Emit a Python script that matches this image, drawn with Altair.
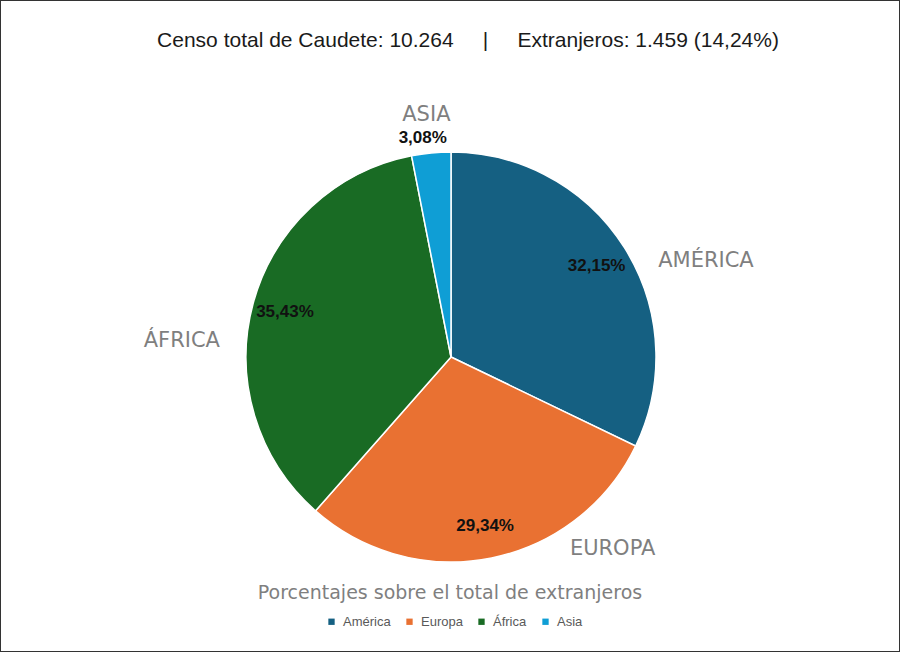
import altair as alt
import pandas as pd

regiones = ["América", "Europa", "África", "Asia"]
porcentajes = [32.15, 29.34, 35.43, 3.08]
colores = ["#156082", "#E97132", "#196B24", "#0F9ED5"]
NB = "\u00a0"
titulo = "Censo total de Caudete: 10.264" + NB * 5 + "|" + NB * 5 + "Extranjeros: 1.459 (14,24%)"
subtitulo = "Porcentajes sobre el total de extranjeros"

df = pd.DataFrame({"region": regiones, "pct": porcentajes, "orden": list(range(len(regiones)))})
df["etiqueta"] = [f"{v:.2f}".replace(".", ",") + "%" for v in porcentajes]
df["nombre"] = [r.upper() for r in regiones]

CX, CY = 451, 357

base = alt.Chart(df).encode(
    theta=alt.Theta("pct:Q", stack=True),
    order=alt.Order("orden:Q"),
    x=alt.value(CX),
    y=alt.value(CY),
)

pie = base.mark_arc(radius=205, stroke="white", strokeWidth=1.5).encode(
    color=alt.Color(
        "region:N",
        scale=alt.Scale(domain=regiones, range=colores),
        sort=regiones,
        legend=alt.Legend(
            title=None, orient="none", legendX=325, legendY=615,
            direction="horizontal", symbolType="square", symbolSize=40,
            labelFontSize=13, labelColor="#595959", labelFont="Liberation Sans",
            columnPadding=12, labelOffset=5, symbolStrokeWidth=0,
        ),
    )
)

pct_main = base.mark_text(
    radius=172, font="Liberation Sans", fontSize=17, fontWeight="bold", color="#111111",
    align="center", baseline="middle",
).encode(
    text=alt.condition(alt.datum.region == "Asia", alt.value(""), alt.Text("etiqueta:N"))
)
pct_asia = base.mark_text(
    radius=220, dx=-7, font="Liberation Sans", fontSize=17, fontWeight="bold", color="#111111",
    align="center", baseline="middle",
).encode(
    text=alt.condition(alt.datum.region == "Asia", alt.Text("etiqueta:N"), alt.value(""))
)

offsets = {"América": (39, 40), "Europa": (111, -58), "África": (-23, 51), "Asia": (0, 12)}
outer = []
for reg in regiones:
    dx, dy = offsets[reg]
    outer.append(
        base.mark_text(
            radius=255, dx=dx, dy=dy, font="DejaVu Sans", fontSize=21, color="#7F7F7F",
            align="center", baseline="middle",
        ).encode(
            text=alt.condition(alt.datum.region == reg, alt.Text("nombre:N"), alt.value(""))
        )
    )

title_mark = alt.Chart(pd.DataFrame({"t": [titulo]})).mark_text(
    font="Liberation Sans", fontSize=21, color="#1a1a1a", align="center", baseline="middle"
).encode(x=alt.value(468), y=alt.value(41), text="t:N")

sub_mark = alt.Chart(pd.DataFrame({"t": [subtitulo]})).mark_text(
    font="DejaVu Sans", fontSize=19, color="#7F7F7F", align="center", baseline="middle"
).encode(x=alt.value(450), y=alt.value(593), text="t:N")

chart = alt.layer(pie, pct_main, pct_asia, *outer, title_mark, sub_mark).properties(
    width=900, height=652, padding=0, autosize="none", background="white"
).configure_view(stroke="#333333", strokeWidth=2)

chart.save("out.html", embed_options={"renderer": "svg", "actions": False})
